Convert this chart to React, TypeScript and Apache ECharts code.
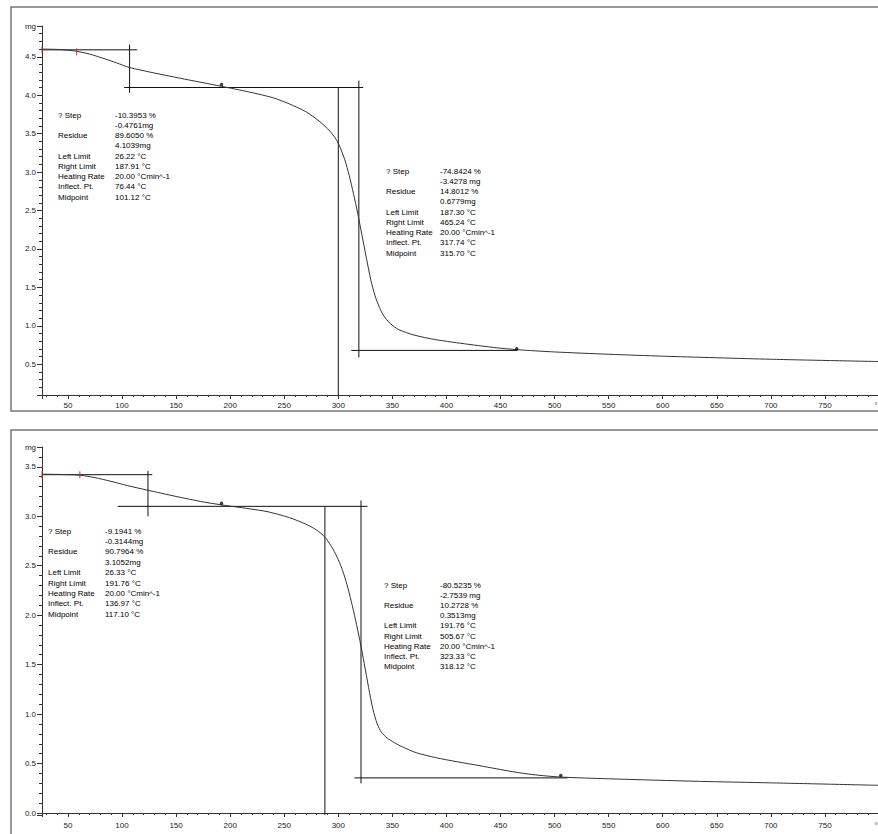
import React, { useEffect, useRef } from "react";
import * as echarts from "echarts";

// ---- Data (°C, mg) ----
const topT = [26, 40, 55, 70, 85, 95, 107, 126, 154, 192, 218, 240, 255, 270, 283, 292, 298, 302, 306, 310, 314, 318, 322, 326, 330, 334, 338, 342, 348, 356, 370, 390, 420, 446, 465, 500, 550, 600, 700, 800];
const topMass = [4.6, 4.595, 4.578, 4.535, 4.468, 4.42, 4.36, 4.3, 4.22, 4.115, 4.04, 3.965, 3.885, 3.785, 3.655, 3.535, 3.425, 3.31, 3.16, 2.96, 2.72, 2.46, 2.17, 1.88, 1.6, 1.39, 1.24, 1.13, 1.03, 0.95, 0.88, 0.82, 0.76, 0.715, 0.69, 0.66, 0.63, 0.605, 0.565, 0.535];

const botT = [26, 45, 61, 75, 89, 105, 123, 150, 175, 195, 215, 235, 255, 270, 280, 288, 295, 300, 304, 308, 312, 316, 320, 324, 328, 332, 336, 340, 345, 352, 360, 372, 390, 410, 431, 461, 480, 505, 550, 634, 700, 800];
const botMass = [3.425, 3.422, 3.415, 3.39, 3.355, 3.31, 3.265, 3.2, 3.145, 3.11, 3.08, 3.045, 2.985, 2.92, 2.86, 2.785, 2.67, 2.56, 2.45, 2.31, 2.14, 1.95, 1.74, 1.51, 1.27, 1.05, 0.9, 0.815, 0.76, 0.71, 0.665, 0.61, 0.56, 0.518, 0.478, 0.418, 0.388, 0.364, 0.346, 0.32, 0.305, 0.28];

// tangent / limit construction segments [[x1,y1],[x2,y2]]
const topSegments = [
  [[26, 4.59], [114, 4.59]],
  [[107, 4.66], [107, 4.03]],
  [[102, 4.1], [323, 4.1]],
  [[300, 4.1], [300, 0.1]],
  [[319, 4.19], [319, 0.59]],
  [[312, 0.68], [465, 0.68]],
];
const botSegments = [
  [[26, 3.42], [128, 3.42]],
  [[124, 3.46], [124, 3.0]],
  [[96, 3.1], [327, 3.1]],
  [[287.6, 3.1], [287.6, -0.02]],
  [[321, 3.16], [321, 0.3]],
  [[315, 0.355], [512, 0.355]],
];
const topLimitMarks = [[26, 4.59], [58, 4.565]];
const botLimitMarks = [[26, 3.42], [61, 3.42]];
const topPoints = [[192, 4.14], [465, 0.7]];
const botPoints = [[192, 3.13], [505.7, 0.38]];

const stepLabels = ["? Step", "", "Residue", "", "Left Limit", "Right Limit", "Heating Rate", "Inflect. Pt.", "Midpoint"];
const topStep1 = ["-10.3953 %", "-0.4761mg", "89.6050 %", "4.1039mg", "26.22 °C", "187.91 °C", "20.00 °Cmin^-1", "76.44 °C", "101.12 °C"];
const topStep2 = ["-74.8424 %", "-3.4278 mg", "14.8012 %", "0.6779mg", "187.30 °C", "465.24 °C", "20.00 °Cmin^-1", "317.74 °C", "315.70 °C"];
const botStep1 = ["-9.1941 %", "-0.3144mg", "90.7964 %", "3.1052mg", "26.33 °C", "191.76 °C", "20.00 °Cmin^-1", "136.97 °C", "117.10 °C"];
const botStep2 = ["-80.5235 %", "-2.7539 mg", "10.2728 %", "0.3513mg", "191.76 °C", "505.67 °C", "20.00 °Cmin^-1", "323.33 °C", "318.12 °C"];

const X_MIN = 26;
const X_MAX = 800;
const TOP_Y = [0.1, 4.9];
const BOT_Y = [-0.02, 3.7];

const FONT = "'Liberation Sans Narrow', 'Liberation Sans', sans-serif";
const AXIS_COLOR = "#333";

function near(a: number, b: number) {
  return Math.abs(a - b) < 1e-6;
}

export default function App() {
  const ref = useRef<HTMLDivElement>(null);
  useEffect(() => {
    if (!ref.current) return;
    const chart = echarts.init(ref.current, undefined, { renderer: "svg" });

    const grids = [
      { left: 42, top: 26, width: 837, height: 369, containLabel: false, outerBoundsMode: "none" },
      { left: 42, top: 447, width: 837, height: 368, containLabel: false, outerBoundsMode: "none" },
    ];
    const yRanges = [TOP_Y, BOT_Y];

    const xAxis: any[] = [];
    const yAxis: any[] = [];
    grids.forEach((_, g) => {
      xAxis.push({
        type: "value",
        gridIndex: g,
        position: "bottom",
        min: X_MIN,
        max: X_MAX,
        splitNumber: 15,
        axisLine: { lineStyle: { color: AXIS_COLOR, width: 1 } },
        axisTick: { length: 4, lineStyle: { color: AXIS_COLOR } },
        splitLine: { show: false },
        axisLabel: {
          margin: 6,
          fontSize: 8,
          fontFamily: FONT,
          color: "#222",
          showMaxLabel: true,
          formatter: (v: number) => {
            if (near(v, X_MAX)) return "°C";
            if (Math.abs(v % 50) < 1e-6) return String(v);
            return "";
          },
        },
      });
      xAxis.push({
        type: "value",
        gridIndex: g,
        position: "bottom",
        min: X_MIN,
        max: X_MAX,
        splitNumber: 77,
        axisLine: { show: false },
        axisTick: { length: 2, lineStyle: { color: AXIS_COLOR } },
        splitLine: { show: false },
        axisLabel: { show: false },
      });
      const [ymin, ymax] = yRanges[g];
      yAxis.push({
        type: "value",
        gridIndex: g,
        position: "left",
        min: ymin,
        max: ymax,
        splitNumber: g === 0 ? 10 : 7,
        axisLine: { show: true, lineStyle: { color: AXIS_COLOR, width: 1 } },
        axisTick: { show: true, length: 5, lineStyle: { color: AXIS_COLOR } },
        splitLine: { show: false },
        axisLabel: {
          margin: 6,
          fontSize: 8,
          fontFamily: FONT,
          color: "#222",
          showMaxLabel: true,
          formatter: (v: number) => {
            if (near(v, ymax)) return "mg";
            const r = Math.round(v * 2) / 2;
            if (near(v, r)) return r.toFixed(1);
            return "";
          },
        },
      });
      yAxis.push({
        type: "value",
        gridIndex: g,
        position: "left",
        min: ymin,
        max: ymax,
        splitNumber: g === 0 ? 48 : 37,
        axisLine: { show: false },
        axisTick: { show: true, length: 3, lineStyle: { color: AXIS_COLOR } },
        splitLine: { show: false },
        axisLabel: { show: false },
      });
    });

    const series: any[] = [];
    const addPanel = (g: number, T: number[], M: number[], segs: number[][][], marks: number[][], pts: number[][]) => {
      const xi = g * 2;
      const yi = g * 2;
      segs.forEach((s) => {
        series.push({
          type: "line",
          xAxisIndex: xi,
          yAxisIndex: yi,
          data: s,
          showSymbol: false,
          silent: true,
          lineStyle: { color: "#111", width: 1 },
          z: 2,
        });
      });
      series.push({
        type: "line",
        xAxisIndex: xi,
        yAxisIndex: yi,
        data: T.map((t, i) => [t, M[i]]),
        showSymbol: false,
        smooth: 0.25,
        lineStyle: { color: "#333", width: 1 },
        z: 3,
      });
      series.push({
        type: "scatter",
        xAxisIndex: xi,
        yAxisIndex: yi,
        data: marks,
        symbol: "rect",
        symbolSize: [1.2, 7],
        itemStyle: { color: "#e02020" },
        z: 4,
      });
      series.push({
        type: "scatter",
        xAxisIndex: xi,
        yAxisIndex: yi,
        data: pts,
        symbol: "circle",
        symbolSize: 3.5,
        itemStyle: { color: "#111" },
        z: 4,
      });
    };
    addPanel(0, topT, topMass, topSegments, topLimitMarks, topPoints);
    addPanel(1, botT, botMass, botSegments, botLimitMarks, botPoints);

    const textBlock = (x1: number, x2: number, y0: number, dy: number, values: string[]) => {
      const els: any[] = [];
      stepLabels.forEach((l, i) => {
        if (l)
          els.push({
            type: "text",
            left: x1,
            top: y0 + i * dy - 5,
            style: { text: l, fontSize: 8, fontFamily: FONT, fill: "#000" },
          });
        els.push({
          type: "text",
          left: x2,
          top: y0 + i * dy - 5,
          style: { text: values[i], fontSize: 8, fontFamily: FONT, fill: "#000" },
        });
      });
      return els;
    };

    const graphic: any[] = [
      {
        type: "rect",
        shape: { x: 11, y: 7, width: 880, height: 404 },
        style: { fill: "none", stroke: "#777", lineWidth: 1.5 },
        silent: true,
        z: -1,
      },
      {
        type: "rect",
        shape: { x: 11, y: 430, width: 880, height: 420 },
        style: { fill: "none", stroke: "#777", lineWidth: 1.5 },
        silent: true,
        z: -1,
      },
      ...textBlock(58, 115, 116, 10.25, topStep1),
      ...textBlock(386, 440, 172, 10.25, topStep2),
      ...textBlock(48, 105, 532, 10.4, botStep1),
      ...textBlock(384, 440, 586, 10.2, botStep2),
    ];

    chart.setOption({
      animation: false,
      backgroundColor: "#fff",
      grid: grids,
      xAxis,
      yAxis,
      series,
      graphic,
    });
    return () => chart.dispose();
  }, []);

  return (
    <div
      ref={ref}
      style={{ position: "absolute", left: 0, top: 0, width: 878, height: 834, overflow: "hidden" }}
    />
  );
}
